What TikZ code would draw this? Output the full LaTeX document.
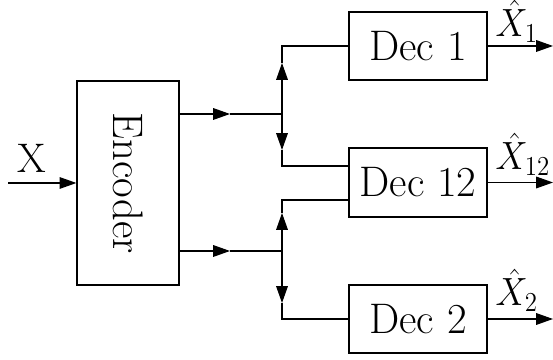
\documentclass[tikz,border=0pt]{standalone}
\usetikzlibrary{arrows.meta}
\newcommand{\bigtxt}[1]{\scalebox{0.6}{\fontsize{17.8}{20}\selectfont #1}}
\newcommand{\mathlbl}[1]{\scalebox{0.52}[0.57]{\fontsize{17.28}{20}\selectfont $#1$}}
\begin{document}
\begin{tikzpicture}[x=0.25pt,y=-0.25pt, line width=0.3pt,
  box/.style={draw, rectangle, inner sep=0pt},
  tip/.style={-{Triangle[length=4.2pt,width=2.9pt]}},
  lbl/.style={inner sep=0pt, anchor=base west}]
\useasboundingbox (0,0) rectangle (553,360);
% boxes
\node[box, minimum width=25.5pt, minimum height=51pt] (enc) at (128,183) {\rotatebox{-90}{\bigtxt{Encoder}}};
\node[box, minimum width=34.5pt, minimum height=17pt] (dec1) at (418,46) {\bigtxt{Dec 1}};
\node[box, minimum width=34.5pt, minimum height=17.25pt] (dec12) at (418,182.5) {\bigtxt{Dec 12}};
\node[box, minimum width=34.5pt, minimum height=17pt] (dec2) at (418,319) {\bigtxt{Dec 2}};
% coordinates
\coordinate (xin) at (8,183);
\coordinate (j1) at (282,114);
\coordinate (j2) at (282,251);
\coordinate (m1) at (230,114);
\coordinate (m2) at (230,251);
\coordinate (u1) at (282,63);
\coordinate (d1) at (282,150);
\coordinate (u2) at (282,213);
\coordinate (d2) at (282,303);
\coordinate (ia) at (349,166);
\coordinate (ib) at (349,200);
\coordinate (o1) at (553,46);
\coordinate (o12) at (553,182.5);
\coordinate (o2) at (553,319);
% input
\draw[tip] (xin) -- (enc.west);
\node[lbl] (xl) at (17,173) {\scalebox{0.58}{\fontsize{17.8}{20}\selectfont X}};
% encoder outputs
\draw[tip] (enc.east |- j1) -- (m1);
\draw (m1) -- (j1);
\draw[tip] (enc.east |- j2) -- (m2);
\draw (m2) -- (j2);
% upper split
\draw[tip] (j1) -- (u1);
\draw (u1) -- (j1 |- dec1.west) -- (dec1.west);
\draw[tip] (j1) -- (d1);
\draw (d1) -- (j1 |- ia) -- (ia);
% lower split
\draw[tip] (j2) -- (u2);
\draw (u2) -- (j2 |- ib) -- (ib);
\draw[tip] (j2) -- (d2);
\draw (d2) -- (j2 |- dec2.west) -- (dec2.west);
% outputs
\draw[tip] (dec1.east) -- (o1);
\draw[tip] (dec12.east) -- (o12);
\draw[tip] (dec2.east) -- (o2);
\node[lbl] (l1) at (495,37) {\mathlbl{\hat{X}_1}};
\node[lbl] (l12) at (495,170) {\mathlbl{\hat{X}_{12}}};
\node[lbl] (l2) at (495,306) {\mathlbl{\hat{X}_2}};
\end{tikzpicture}
\end{document}
